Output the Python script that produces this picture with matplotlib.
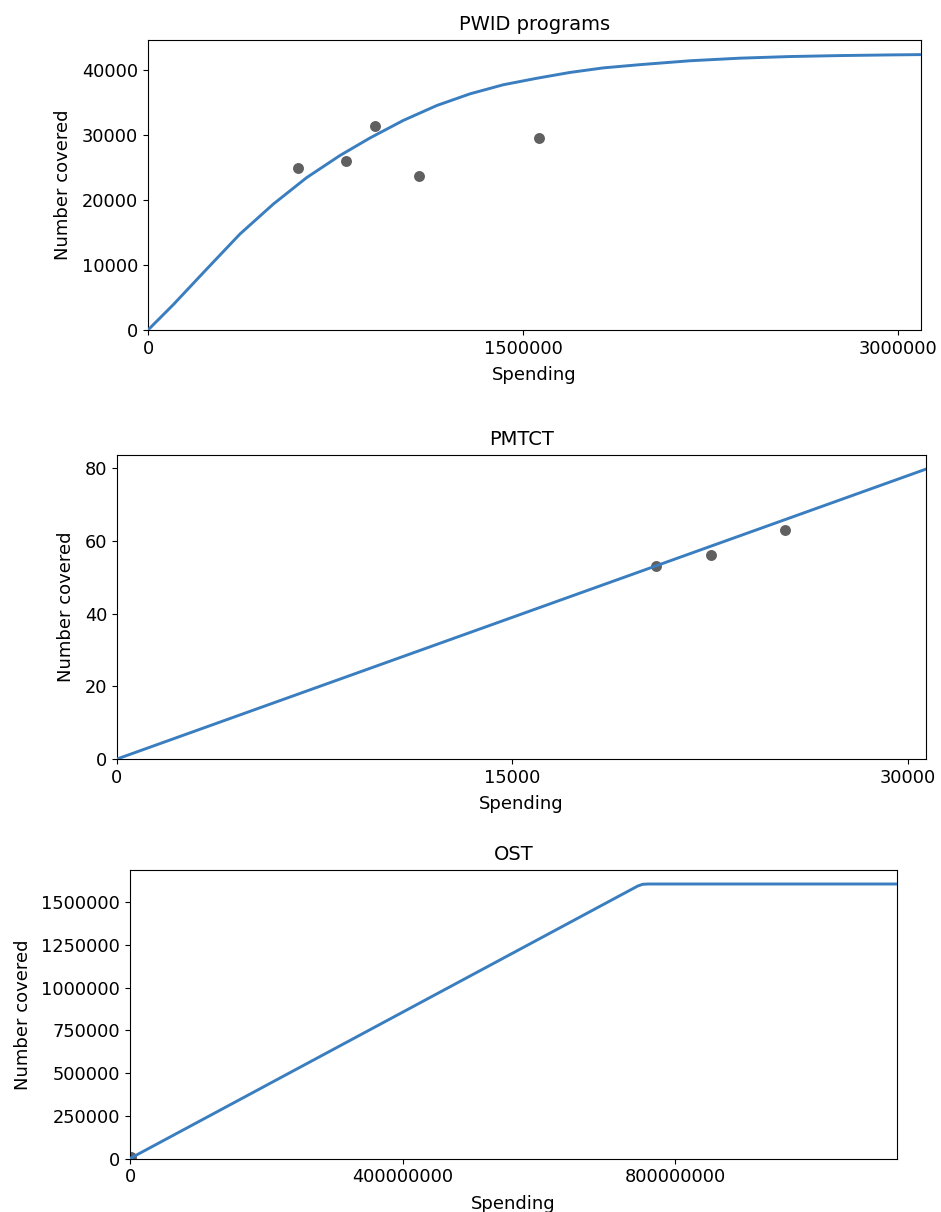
import numpy as np
import matplotlib
matplotlib.use('Agg')
import matplotlib.pyplot as plt

# Cost-coverage curves

# PWID programs
pwid_curve_x = [0, 101000, 235000, 368000, 501000, 635000, 768000, 888000, 1021000,
                1155000, 1288000, 1421000, 1555000, 1688000, 1821000, 1968000,
                2168000, 2368000, 2568000, 2768000, 2968000, 3092000]
pwid_curve_y = [0, 3900, 9400, 14800, 19400, 23500, 26900, 29600, 32300,
                34600, 36400, 37800, 38800, 39700, 40400, 40900,
                41500, 41900, 42150, 42300, 42400, 42450]
pwid_data_x = [601000, 790000, 906000, 1082000, 1565000]
pwid_data_y = [24900, 26000, 31500, 23700, 29600]

# PMTCT
pmtct_curve_x = [0, 31000]
pmtct_curve_y = [0, 80.5]
pmtct_data_x = [20470, 22530, 25340]
pmtct_data_y = [53, 56, 63]

# OST
ost_curve_x = [0, 745000000, 752000000, 760000000, 1130000000]
ost_curve_y = [0, 1596000, 1606000, 1608000, 1608000]
ost_data_x = [2000000]
ost_data_y = [6000]

#----------------------------------------
W, H = 941, 1212
line_col = '#3a7ebf'
dot_col = '#606060'

panels = [
    # title, curve, data, (left, right, top, bottom) px, xlim, ylim, xticks
    ('PWID programs', pwid_curve_x, pwid_curve_y, pwid_data_x, pwid_data_y,
     (148, 921, 40, 330), 3092000, 44700, [0, 1500000, 3000000]),
    ('PMTCT', pmtct_curve_x, pmtct_curve_y, pmtct_data_x, pmtct_data_y,
     (117, 926, 455, 759), 30700, 83.6, [0, 15000, 30000]),
    ('OST', ost_curve_x, ost_curve_y, ost_data_x, ost_data_y,
     (130, 897, 870, 1158.5), 1125500000, 1690000, [0, 400000000, 800000000]),
]

fig = plt.figure(figsize=(W / 100, H / 100), dpi=100)

for title, cx, cy, dx, dy, (l, r, t, b), xmax, ymax, xticks in panels:
    ax = fig.add_axes([l / W, 1 - b / H, (r - l) / W, (b - t) / H])
    ax.scatter(dx, dy, s=62, color=dot_col, zorder=2, linewidths=0)
    ax.plot(cx, cy, color=line_col, lw=2.1, zorder=3)
    ax.set_xlim(0, xmax)
    ax.set_ylim(0, ymax)
    ax.set_xticks(xticks)
    ax.ticklabel_format(style='plain', useOffset=False)
    ax.tick_params(labelsize=12.8)
    ax.set_title(title, fontsize=14, pad=7)
    ax.set_xlabel('Spending', fontsize=13, labelpad=6)
    ax.set_ylabel('Number covered', fontsize=13, labelpad=7)

fig.savefig('out.png', dpi=100)
